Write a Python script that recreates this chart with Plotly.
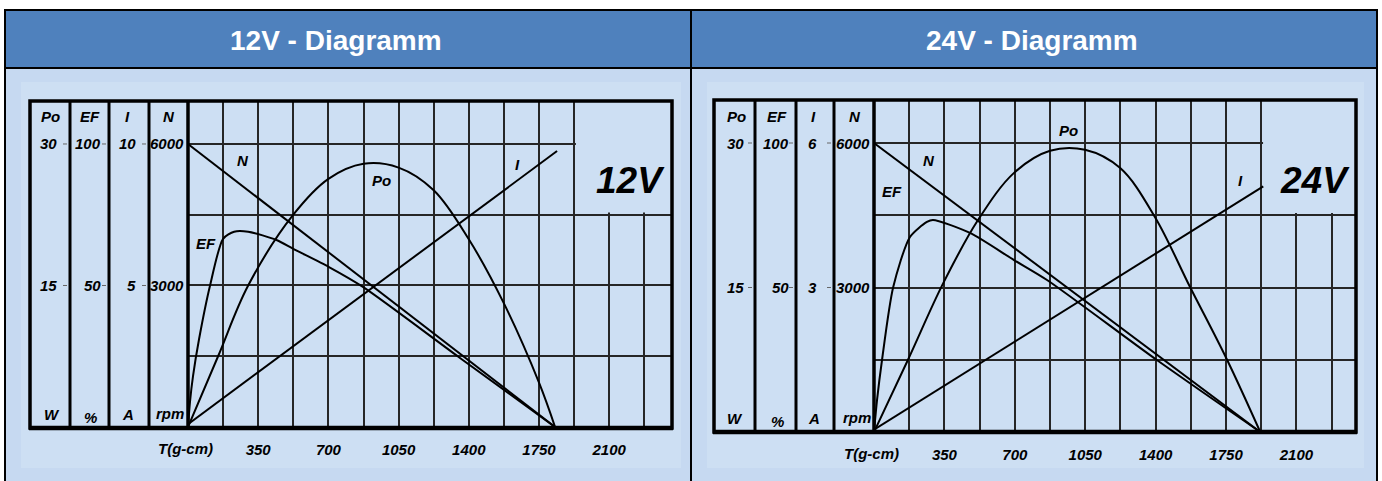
import plotly.graph_objects as go

W, H = 1382, 481

# ---------------- data ----------------
# 12 V diagram  (T in g-cm)
T12_N = [0, 1830]
N12 = [6000, 0]
T12_I = [0, 1840]
I12 = [0.1, 9.75]
T12_PO = [0, 150, 300, 525, 700, 875, 1050, 1225, 1400, 1575, 1750, 1830]
PO12 = [0, 7.5, 15.0, 22.5, 26.3, 27.9, 27.5, 25.1, 19.9, 13.1, 4.7, 0]
T12_EF = [0, 10, 25, 55, 110, 175, 230, 300, 444, 523, 703, 872, 1356, 1830]
EF12 = [0, 9, 18, 31, 50, 66.5, 69, 69, 66, 63, 56.5, 49.5, 24.4, 0]

# 24 V diagram
T24_N = [0, 1920]
N24 = [6000, 0]
T24_I = [0, 1935]
I24 = [0.05, 5.1]
T24_PO = [0, 169, 343, 517, 696, 875, 1049, 1224, 1397, 1571, 1755, 1920]
PO24 = [0, 7.5, 15.4, 22.0, 26.9, 29.2, 29.3, 27.4, 22.3, 15.05, 7.5, 0]
T24_EF = [0, 15, 40, 95, 179, 263, 293, 477, 696, 860, 1406, 1920]
EF24 = [0, 11, 25, 50, 67.5, 72.7, 73.4, 68.9, 59.5, 52.6, 24.9, 0]

# scale columns
SCALE_NAMES = ["Po", "EF", "I", "N"]
SCALE_UNITS = ["W", "%", "A", "rpm"]
FULL12 = ["30", "100", "10", "6000"]
HALF12 = ["15", "50", "5", "3000"]
FULL24 = ["30", "100", "6", "6000"]
HALF24 = ["15", "50", "3", "3000"]
FULL12_V = [30, 100, 10, 6000]
FULL24_V = [30, 100, 6, 6000]

X_TICKS = [175, 350, 525, 700, 875, 1050, 1225, 1400, 1575, 1750, 1925, 2100, 2275]
X_LABELS = ["", "350", "", "700", "", "1050", "", "1400", "", "1750", "", "2100", ""]
Y_TICKS = [1500, 3000, 4500, 6000]

TITLES = ["12V - Diagramm", "24V - Diagramm"]
VOLT_LABELS = ["12V", "24V"]

# ---------------- styling ----------------
HEADER = "#4f81bd"
BODY = "#c6d9f1"
IMG = "#cddff3"
GRID = "#262626"
FONT = "Liberation Sans, Arial, sans-serif"


def px(x):
    return x / W


def py(y):
    return 1 - y / H


fig = go.Figure()

# panel geometry (pixels)
P = [
    dict(left=188, right=672, top=102, bottom=427, xmax=2413, ymax=6890,
         frame=(30, 101, 672, 428), divs=[70, 109, 149, 188],
         xa="x", ya="y", po="y3", ef="y4", ia="y5", full=FULL12_V,
         T_N=T12_N, N=N12, T_I=T12_I, I=I12, T_PO=T12_PO, PO=PO12, T_EF=T12_EF, EF=EF12,
         fulls=FULL12, halfs=HALF12,
         name_x=[50, 90, 128, 169], name_y=117,
         val_right=[59, 103, 138, 186], unit_x=[52, 90, 128, 170], unit_y=[414, 417, 414, 413],
         tlabel=(185, 448), vlabel=(630, 181),
         clabels=[("N", 243, 161), ("Po", 382, 180), ("I", 517, 165), ("EF", 206, 243)],
         title_x=336),
    dict(left=874, right=1356, top=100, bottom=432, xmax=2396, ymax=6893,
         frame=(714, 100, 1356, 432), divs=[755, 796, 834, 874],
         xa="x2", ya="y2", po="y6", ef="y7", ia="y8", full=FULL24_V,
         T_N=T24_N, N=N24, T_I=T24_I, I=I24, T_PO=T24_PO, PO=PO24, T_EF=T24_EF, EF=EF24,
         fulls=FULL24, halfs=HALF24,
         name_x=[736, 777, 813, 855], name_y=116,
         val_right=[746, 791, 819, 872], unit_x=[735, 777, 814, 857], unit_y=[418, 421, 418, 417],
         tlabel=(871, 453), vlabel=(1315, 180),
         clabels=[("N", 929, 160), ("Po", 1068, 130), ("I", 1240, 180), ("EF", 892, 191)],
         title_x=1032),
]

shapes = []
annotations = []

# table
shapes.append(dict(type="rect", xref="paper", yref="paper", x0=px(5), x1=px(1377), y0=py(68), y1=py(10),
                   fillcolor=HEADER, line=dict(color="black", width=2), layer="below"))
shapes.append(dict(type="rect", xref="paper", yref="paper", x0=px(5), x1=px(1377), y0=py(486), y1=py(68),
                   fillcolor=BODY, line=dict(color="black", width=2), layer="below"))
shapes.append(dict(type="line", xref="paper", yref="paper", x0=px(691), x1=px(691), y0=py(486), y1=py(10),
                   line=dict(color="black", width=2), layer="below"))
for (a, b, c, d) in [(21, 82, 681, 468), (707, 82, 1364, 468)]:
    shapes.append(dict(type="rect", xref="paper", yref="paper", x0=px(a), x1=px(c), y0=py(d), y1=py(b),
                       fillcolor=IMG, line=dict(width=0), layer="below"))

layout_axes = {}
for k, p in enumerate(P):
    xdom = [px(p["left"]), px(p["right"])]
    ydom = [py(p["bottom"]), py(p["top"])]
    xname = "xaxis" if p["xa"] == "x" else "xaxis" + p["xa"][1:]
    yname = "yaxis" if p["ya"] == "y" else "yaxis" + p["ya"][1:]
    layout_axes[xname] = dict(domain=xdom, range=[0, p["xmax"]], anchor=p["ya"],
                              tickvals=X_TICKS, ticktext=X_LABELS, showgrid=True,
                              gridcolor=GRID, gridwidth=1.6, zeroline=False, showline=False,
                              ticks="outside", ticklen=9, tickcolor="rgba(0,0,0,0)",
                              tickfont=dict(family=FONT, size=15, color="black", style="italic", weight="bold"),
                              fixedrange=True)
    layout_axes[yname] = dict(domain=ydom, range=[0, p["ymax"]], anchor=p["xa"],
                              tickvals=Y_TICKS, showticklabels=False, showgrid=True,
                              gridcolor=GRID, gridwidth=1.6, zeroline=False, showline=False,
                              fixedrange=True)
    ratio = p["ymax"] / p["full"][3]
    for key, full in ((p["po"], p["full"][0]), (p["ef"], p["full"][1]), (p["ia"], p["full"][2])):
        layout_axes["yaxis" + key[1:]] = dict(overlaying=p["ya"], anchor=p["xa"], range=[0, full * ratio],
                                             showgrid=False, showticklabels=False, zeroline=False,
                                             showline=False, fixedrange=True)

    line = dict(color="black", width=2)
    fig.add_trace(go.Scatter(x=p["T_N"], y=p["N"], xaxis=p["xa"], yaxis=p["ya"], mode="lines",
                             line=line, showlegend=False, hoverinfo="skip"))
    fig.add_trace(go.Scatter(x=p["T_I"], y=p["I"], xaxis=p["xa"], yaxis=p["ia"], mode="lines",
                             line=line, showlegend=False, hoverinfo="skip"))
    fig.add_trace(go.Scatter(x=p["T_PO"], y=p["PO"], xaxis=p["xa"], yaxis=p["po"], mode="lines",
                             line=dict(color="black", width=2, shape="spline", smoothing=1.0),
                             showlegend=False, hoverinfo="skip"))
    fig.add_trace(go.Scatter(x=p["T_EF"], y=p["EF"], xaxis=p["xa"], yaxis=p["ef"], mode="lines",
                             line=dict(color="black", width=2, shape="spline", smoothing=0.7),
                             showlegend=False, hoverinfo="skip"))

    # blank box in the upper right of the grid
    shapes.append(dict(type="rect", xref=p["xa"], yref=p["ya"], x0=X_TICKS[10] + 9, x1=p["xmax"],
                       y0=Y_TICKS[2] + 45, y1=p["ymax"], fillcolor=IMG, line=dict(width=0), layer="between"))

    # frame
    fx0, fy0, fx1, fy1 = p["frame"]
    shapes.append(dict(type="rect", xref="paper", yref="paper", x0=px(fx0), x1=px(fx1), y0=py(fy1), y1=py(fy0),
                       line=dict(color="black", width=3.5)))
    shapes.append(dict(type="line", xref="paper", yref="paper", x0=px(fx0 - 1), x1=px(fx1 + 1), y0=py(fy1), y1=py(fy1),
                       line=dict(color="black", width=4.5)))
    for i, d in enumerate(p["divs"]):
        shapes.append(dict(type="line", xref="paper", yref="paper", x0=px(d), x1=px(d), y0=py(fy1), y1=py(fy0),
                           line=dict(color="black", width=3.5 if i == 3 else 3)))
    # little scale ticks
    for i, d in enumerate(p["divs"][:3]):
        for yv in (Y_TICKS[3], Y_TICKS[1]):
            shapes.append(dict(type="line", xref="paper", yref=p["ya"], x0=px(d - 7), x1=px(d - 3), y0=yv, y1=yv,
                               line=dict(color="#666", width=1)))

    tf = dict(family=FONT, size=15, color="black", style="italic", weight="bold")
    for i in range(4):
        annotations.append(dict(text=SCALE_NAMES[i], xref="paper", yref="paper", x=px(p["name_x"][i]),
                                y=py(p["name_y"]), showarrow=False, font=tf, xanchor="center", yanchor="middle"))
        annotations.append(dict(text=p["fulls"][i], xref="paper", yref=p["ya"], x=px(p["val_right"][i]),
                                y=Y_TICKS[3], showarrow=False, font=tf, xanchor="right", yanchor="middle"))
        annotations.append(dict(text=p["halfs"][i], xref="paper", yref=p["ya"], x=px(p["val_right"][i]),
                                y=Y_TICKS[1], showarrow=False, font=tf, xanchor="right", yanchor="middle"))
        annotations.append(dict(text=SCALE_UNITS[i], xref="paper", yref="paper", x=px(p["unit_x"][i]),
                                y=py(p["unit_y"][i]), showarrow=False, font=tf, xanchor="center", yanchor="middle"))
    annotations.append(dict(text="T(g-cm)", xref="paper", yref="paper", x=px(p["tlabel"][0]), y=py(p["tlabel"][1]),
                            showarrow=False, font=tf, xanchor="center", yanchor="middle"))
    for (txt, cx, cy) in p["clabels"]:
        annotations.append(dict(text=txt, xref="paper", yref="paper", x=px(cx), y=py(cy), showarrow=False,
                                font=tf, xanchor="center", yanchor="middle"))
    annotations.append(dict(text=VOLT_LABELS[k], xref="paper", yref="paper", x=px(p["vlabel"][0]),
                            y=py(p["vlabel"][1]), showarrow=False,
                            font=dict(family=FONT, size=37, color="black", style="italic", weight="bold"),
                            xanchor="center", yanchor="middle"))
    annotations.append(dict(text=TITLES[k], xref="paper", yref="paper", x=px(p["title_x"]), y=py(40),
                            showarrow=False, font=dict(family=FONT, size=28, color="white", weight="bold"),
                            xanchor="center", yanchor="middle"))

fig.update_layout(width=W, height=H, margin=dict(l=0, r=0, t=0, b=0),
                  paper_bgcolor="white", plot_bgcolor="rgba(0,0,0,0)",
                  shapes=shapes, annotations=annotations, showlegend=False, **layout_axes)

fig.write_html("out.html", config={"displayModeBar": False},
               post_script="document.body.style.margin='0';document.body.style.overflow='hidden';")
